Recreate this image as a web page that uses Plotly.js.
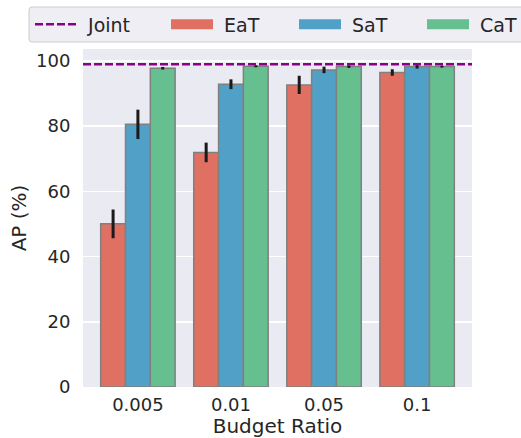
<!DOCTYPE html>
<html>
<head>
<meta charset="utf-8">
<script src="https://cdn.plot.ly/plotly-3.0.1.min.js"></script>
<style>html,body{margin:0;padding:0;background:#fff;}#chart{width:521px;height:438px;}</style>
</head>
<body>
<div id="chart"></div>
<script>
const categories = ["0.005", "0.01", "0.05", "0.1"];
const seriesNames = ["EaT", "SaT", "CaT"];
const eatValues = [50.0, 71.9, 92.6, 96.4];
const eatErrors = [4.4, 3.0, 2.8, 1.0];
const satValues = [80.5, 92.8, 97.2, 98.2];
const satErrors = [4.5, 1.5, 1.0, 0.6];
const catValues = [97.7, 98.3, 98.2, 98.2];
const catErrors = [0.4, 0.3, 0.4, 0.3];
const jointValue = 98.9;
const yTicks = [0, 20, 40, 60, 80, 100];

const colors = {EaT: "#E07062", SaT: "#50A0C8", CaT: "#66BF8F"};
const jointColor = "#8B008B";
const textColor = "#262626";
const font = "DejaVu Sans, sans-serif";

const values = {EaT: eatValues, SaT: satValues, CaT: catValues};
const errors = {EaT: eatErrors, SaT: satErrors, CaT: catErrors};

// plot-area geometry (px) used only to place the legend box
const W = 521, H = 438, ML = 83, MR = 49, MT = 49, MB = 51.3;
const PW = W - ML - MR, PH = H - MT - MB;
const px2x = function (p) { return (p - ML) / PW; };
const py2y = function (p) { return (H - MB - p) / PH; };

const lead = "\u00a0";
const legendIds = ["legend", "legend2", "legend3", "legend4"];
const legendLeftPx = [30, 166, 294, 422];
const legendMidPx = 24.5;

const traces = [];
traces.push({
  type: "scatter", mode: "lines", x: [null], y: [null], name: lead + "Joint",
  legend: legendIds[0],
  line: {color: jointColor, width: 2.5, dash: "8px,3px"}, showlegend: true, hoverinfo: "skip"
});
seriesNames.forEach(function (s) {
  traces.push({
    type: "bar", x: categories, y: values[s], name: s, showlegend: false,
    marker: {color: colors[s], line: {color: "#808080", width: 1.5}},
    error_y: {type: "data", array: errors[s], visible: true, color: "#1a1a1a", thickness: 3, width: 0}
  });
});
seriesNames.forEach(function (s, i) {
  traces.push({
    type: "scatter", mode: "lines", x: [null], y: [null], name: lead + s,
    legend: legendIds[i + 1],
    line: {color: colors[s], width: 13}, showlegend: true, hoverinfo: "skip"
  });
});

function legendAt(i) {
  return {
    orientation: "h", x: px2x(legendLeftPx[i]), xanchor: "left",
    y: py2y(legendMidPx), yanchor: "middle",
    bgcolor: "rgba(0,0,0,0)", borderwidth: 0,
    font: {family: font, size: 19, color: textColor},
    itemwidth: 42
  };
}

// legend frame with rounded left corners
const bx0 = px2x(29), bx1 = px2x(530), by0 = py2y(42), by1 = py2y(7);
const rx = 3 / PW, ry = 3 / PH;
const framePath = "M" + bx1 + "," + by1 +
  " L" + (bx0 + rx) + "," + by1 +
  " Q" + bx0 + "," + by1 + " " + bx0 + "," + (by1 - ry) +
  " L" + bx0 + "," + (by0 + ry) +
  " Q" + bx0 + "," + by0 + " " + (bx0 + rx) + "," + by0 +
  " L" + bx1 + "," + by0 + " Z";

const layout = {
  width: W, height: H,
  margin: {l: ML, r: MR, t: MT, b: MB, autoexpand: false},
  paper_bgcolor: "#ffffff",
  plot_bgcolor: "#EAEAF2",
  font: {family: font, color: textColor, size: 18},
  barmode: "group", bargap: 0.2, bargroupgap: 0,
  showlegend: true,
  legend: legendAt(0),
  legend2: legendAt(1),
  legend3: legendAt(2),
  legend4: legendAt(3),
  xaxis: {
    type: "category", range: [-0.59, 3.59], autorange: false,
    showgrid: false, zeroline: false, showline: false,
    ticks: "outside", ticklen: 1, tickcolor: "rgba(0,0,0,0)",
    tickfont: {family: font, size: 18, color: textColor},
    title: {text: "Budget Ratio", font: {family: font, size: 20, color: textColor}, standoff: 6},
    automargin: false
  },
  yaxis: {
    range: [0, 103.6], autorange: false,
    tickvals: yTicks, ticktext: yTicks.map(String),
    showgrid: true, gridcolor: "#FFFFFF", gridwidth: 1.5,
    zeroline: false, showline: false,
    ticks: "outside", ticklen: 8, tickcolor: "rgba(0,0,0,0)",
    tickfont: {family: font, size: 18, color: textColor},
    title: {text: "AP (%)", font: {family: font, size: 20, color: textColor}, standoff: 4},
    automargin: false
  },
  shapes: [
    {type: "path", xref: "paper", yref: "paper", path: framePath,
     fillcolor: "#EEEEF4", line: {color: "#CCCCCC", width: 1}, layer: "above"},
    {type: "line", xref: "paper", x0: 0, x1: 1, yref: "y", y0: jointValue, y1: jointValue,
     line: {color: jointColor, width: 2.5, dash: "8px,3px"}, layer: "above"}
  ]
};

Plotly.newPlot("chart", traces, layout, {displayModeBar: false, staticPlot: true});
</script>
</body>
</html>
